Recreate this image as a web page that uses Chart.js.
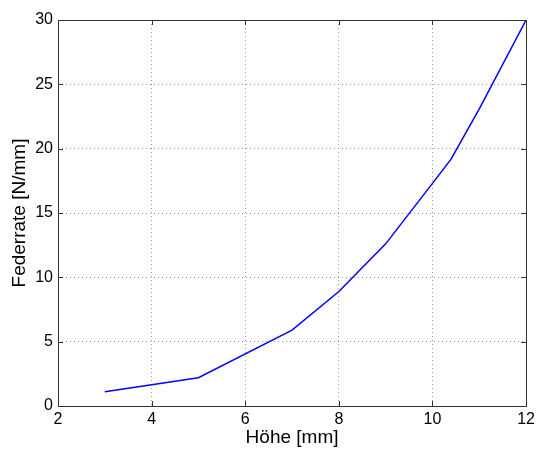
<!DOCTYPE html>
<html>
<head>
<meta charset="utf-8">
<script src="https://cdn.jsdelivr.net/npm/chart.js@4/dist/chart.umd.min.js"></script>
<style>
  html, body { margin: 0; padding: 0; background: #fff; }
  #wrap { width: 539px; height: 451px; }
</style>
</head>
<body>
<div id="wrap"><canvas id="chart"></canvas></div>
<script>
// values
const hoehe = [3, 5, 7, 8, 9, 10, 10.4, 11, 12];
const federrate = [1.1, 2.2, 5.9, 8.9, 12.6, 17.3, 19.2, 23.1, 30];
const xTicks = [2, 4, 6, 8, 10, 12];
const yTicks = [0, 5, 10, 15, 20, 25, 30];

const tickFont = { family: 'Liberation Sans, Arial, sans-serif', size: 16 };
const titleFont = { family: 'Liberation Sans, Arial, sans-serif', size: 19 };

// matlab style box and inner tick marks
const boxPlugin = {
    id: 'box',
    afterDraw(chart) {
        const ctx = chart.ctx;
        const a = chart.chartArea;
        const xs = chart.scales.x, ys = chart.scales.y;
        ctx.save();
        ctx.strokeStyle = '#333';
        ctx.lineWidth = 1;
        ctx.beginPath();
        xTicks.forEach(function(v) {
            const px = Math.round(xs.getPixelForValue(v)) + 0.5;
            ctx.moveTo(px, a.bottom); ctx.lineTo(px, a.bottom - 5);
            ctx.moveTo(px, a.top); ctx.lineTo(px, a.top + 5);
        });
        yTicks.forEach(function(v) {
            const py = Math.round(ys.getPixelForValue(v)) + 0.5;
            ctx.moveTo(a.left, py); ctx.lineTo(a.left + 5, py);
            ctx.moveTo(a.right, py); ctx.lineTo(a.right - 5, py);
        });
        ctx.stroke();
        ctx.strokeRect(Math.round(a.left) + 0.5, Math.round(a.top) + 0.5,
            Math.round(a.right - a.left), Math.round(a.bottom - a.top));
        ctx.restore();
    }
};

new Chart(document.getElementById('chart'), {
    type: 'line',
    data: {
        datasets: [{
            data: hoehe.map((x, i) => ({ x: x, y: federrate[i] })),
            borderColor: '#0000ff',
            borderWidth: 1.5,
            pointRadius: 0,
            tension: 0,
            fill: false
        }]
    },
    options: {
        responsive: true,
        maintainAspectRatio: false,
        animation: false,
        layout: { padding: { top: 20, right: 12, left: 0, bottom: 0 } },
        plugins: { legend: { display: false }, tooltip: { enabled: false } },
        scales: {
            x: {
                type: 'linear',
                min: 2, max: 12,
                afterFit: function(s) { s.height = 45; },
                afterBuildTicks: function(s) { s.ticks = xTicks.map(v => ({ value: v })); },
                ticks: { color: '#000', font: tickFont, padding: 4, maxRotation: 0 },
                grid: { color: '#999', borderDash: [1, 3], drawTicks: false },
                border: { display: false, dash: [1, 3] },
                title: { display: true, text: 'Höhe [mm]', color: '#000', font: titleFont, padding: { top: 0, bottom: 2 } }
            },
            y: {
                type: 'linear',
                min: 0, max: 30,
                afterFit: function(s) { s.width = 58; },
                afterBuildTicks: function(s) { s.ticks = yTicks.map(v => ({ value: v })); },
                ticks: { color: '#000', font: tickFont, padding: 5 },
                grid: { color: '#999', borderDash: [1, 3], drawTicks: false },
                border: { display: false, dash: [1, 3] },
                title: { display: true, text: 'Federrate [N/mm]', color: '#000', font: titleFont, padding: { top: 8, bottom: 0 } }
            }
        }
    },
    plugins: [boxPlugin]
});
</script>
</body>
</html>
